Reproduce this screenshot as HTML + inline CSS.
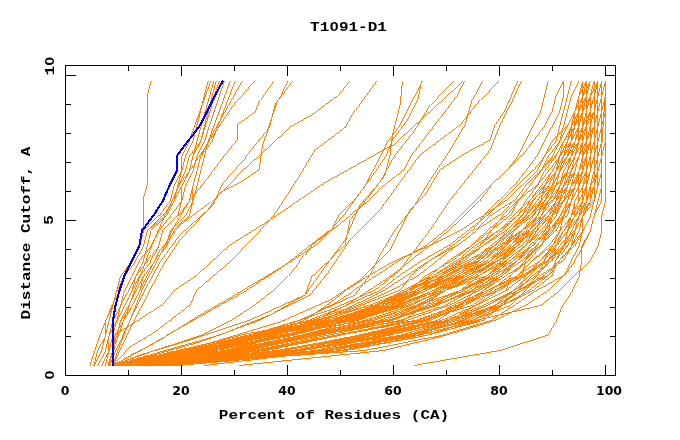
<!DOCTYPE html>
<html lang="en">
<head>
<meta charset="utf-8">
<title>T1091-D1</title>
<style>
html,body{margin:0;padding:0;background:#fff;}
body{width:680px;height:440px;position:relative;overflow:hidden;}
.t{position:absolute;white-space:pre;color:#000;line-height:1;}
.m{font-family:"Liberation Mono","DejaVu Sans Mono",monospace;font-weight:bold;font-size:16px;}
.n{font-family:"DejaVu Sans","Liberation Sans",sans-serif;font-weight:bold;font-size:12.5px;}
.z{font-family:"Liberation Sans",sans-serif;display:inline-block;width:0.6em;text-align:center;letter-spacing:0;}
.c{transform:translate(-50%,-50%);}
.r{transform:translate(-50%,-50%) rotate(-90deg);}
.m.c{transform:translate(-50%,-50%) scale(1,0.82);}
.m.r{transform:translate(-50%,-50%) rotate(-90deg) scale(1,0.82);}
</style>
</head>
<body>
<svg width="680" height="440" viewBox="0 0 680 440" style="position:absolute;left:0;top:0" shape-rendering="crispEdges">
<g>
<polyline points="151.0,80.5 147.0,95.5 147.0,185.0 143.0,200.0 143.0,230.0 140.0,245.0 132.0,260.5 124.5,275.5 119.5,290.5 112.0,305.0 106.0,320.0 100.0,335.0 95.0,350.0 90.0,365.5" stroke="#ff8000" stroke-width="0.99" fill="none"/>
<polyline points="93.6,365.5 101.3,350.5 105.1,335.5 105.1,320.5 112.7,305.5 116.5,290.5 120.4,275.5 131.8,260.5 139.5,245.5 143.3,230.5 158.6,215.5 170.0,200.5 173.8,185.5 181.5,170.5 185.3,155.5 192.9,140.5 196.7,125.5 200.5,110.5 204.2,95.5 208.0,80.5" stroke="#ff8000" stroke-width="0.99" fill="none"/>
<polyline points="93.6,365.5 97.4,350.5 105.1,335.5 108.9,320.5 112.7,305.5 116.5,290.5 124.2,275.5 135.6,260.5 143.3,245.5 147.1,230.5 162.4,215.5 173.8,200.5 177.7,185.5 181.5,170.5 181.5,155.5 189.1,140.5 194.5,125.5 199.8,110.5 205.2,95.5 210.5,80.5" stroke="#ff8000" stroke-width="0.99" fill="none"/>
<polyline points="93.6,365.5 101.3,350.5 105.1,335.5 108.9,320.5 112.7,305.5 116.5,290.5 124.2,275.5 135.6,260.5 143.3,245.5 147.1,230.5 166.2,215.5 173.8,200.5 181.5,185.5 189.1,170.5 192.9,155.5 196.8,140.5 201.0,125.5 205.2,110.5 209.5,95.5 213.7,80.5" stroke="#ff8000" stroke-width="0.99" fill="none"/>
<polyline points="101.3,365.5 108.9,350.5 108.9,335.5 116.5,320.5 120.4,305.5 124.2,290.5 131.8,275.5 139.5,260.5 150.9,245.5 158.6,230.5 170.0,215.5 181.5,200.5 181.5,185.5 189.1,170.5 192.9,155.5 200.6,140.5 204.4,125.5 208.3,110.5 212.1,95.5 216.0,80.5" stroke="#ff8000" stroke-width="0.99" fill="none"/>
<polyline points="97.4,365.5 105.1,350.5 108.9,335.5 112.7,320.5 120.4,305.5 128.0,290.5 135.6,275.5 143.3,260.5 147.1,245.5 150.9,230.5 166.2,215.5 173.8,200.5 177.7,185.5 185.3,170.5 189.1,155.5 200.6,140.5 205.2,125.5 209.8,110.5 214.4,95.5 219.0,80.5" stroke="#ff8000" stroke-width="0.99" fill="none"/>
<polyline points="105.1,365.5 108.9,350.5 112.7,335.5 116.5,320.5 124.2,305.5 131.8,290.5 135.6,275.5 147.1,260.5 158.6,245.5 162.4,230.5 177.7,215.5 181.5,200.5 185.3,185.5 192.9,170.5 196.8,155.5 204.4,140.5 209.3,125.5 214.2,110.5 219.1,95.5 224.0,80.5" stroke="#ff8000" stroke-width="0.99" fill="none"/>
<polyline points="105.1,365.5 108.9,350.5 112.7,335.5 116.5,320.5 124.2,305.5 131.8,290.5 139.5,275.5 150.9,260.5 158.6,245.5 162.4,230.5 177.7,215.5 189.1,200.5 192.9,185.5 196.8,170.5 200.6,155.5 208.2,140.5 213.7,125.5 219.1,110.5 224.6,95.5 230.0,80.5" stroke="#ff8000" stroke-width="0.99" fill="none"/>
<polyline points="108.9,365.5 112.7,350.5 116.5,335.5 120.4,320.5 128.0,305.5 135.6,290.5 143.3,275.5 154.7,260.5 166.2,245.5 170.0,230.5 185.3,215.5 192.9,200.5 192.9,185.5 196.8,170.5 200.6,155.5 212.0,140.5 217.8,125.5 223.5,110.5 229.3,95.5 235.0,80.5" stroke="#ff8000" stroke-width="0.99" fill="none"/>
<polyline points="108.9,365.5 112.7,350.5 116.5,335.5 120.4,320.5 131.8,305.5 139.5,290.5 143.3,275.5 154.7,260.5 166.2,245.5 173.8,230.5 189.1,215.5 192.9,200.5 196.8,185.5 200.6,170.5 204.4,155.5 208.2,140.5 216.7,125.5 225.1,110.5 233.6,95.5 242.0,80.5" stroke="#ff8000" stroke-width="0.99" fill="none"/>
<polyline points="254.0,80.5 237.5,100.0 230.0,110.0 210.0,140.0 195.0,162.5 180.0,182.5 165.0,215.0 150.0,250.0 135.0,290.0 122.0,325.0 113.0,350.0 108.0,365.5" stroke="#ff8000" stroke-width="0.99" fill="none"/>
<polyline points="273.5,80.5 260.0,100.0 255.0,112.0 238.0,124.0 237.0,140.0 225.0,155.0 210.0,175.0 190.0,200.0 175.0,225.0 160.0,255.0 142.0,290.0 128.0,325.0 116.0,350.0 110.0,365.5" stroke="#ff8000" stroke-width="0.99" fill="none"/>
<polyline points="287.5,80.5 280.0,97.0 275.0,105.0 270.0,125.0 262.5,145.0 259.0,170.0 240.0,182.5 220.0,192.5 205.0,212.5 180.0,235.0 160.0,262.0 145.0,290.0 130.0,320.0 118.0,350.0 113.0,365.5" stroke="#ff8000" stroke-width="0.99" fill="none"/>
<polyline points="292.5,80.5 277.5,100.0 267.5,130.0 245.0,157.5 222.5,182.5 212.5,205.0 180.0,240.0 165.0,262.0 150.0,290.0 132.0,325.0 120.0,350.0 113.0,365.5" stroke="#ff8000" stroke-width="0.99" fill="none"/>
<polyline points="349.5,80.5 337.0,96.0 315.0,112.5 292.5,125.0 260.0,155.0 235.0,177.5 210.0,202.5 180.0,225.0 160.0,250.0 145.0,280.0 130.0,310.0 115.0,335.0 113.0,365.5" stroke="#ff8000" stroke-width="0.99" fill="none"/>
<polyline points="376.5,80.5 355.0,110.0 345.0,127.5 315.0,150.0 300.0,175.0 277.5,210.0 270.0,220.0 232.0,260.0 197.0,290.0 190.0,305.0 155.0,332.0 130.0,347.0 113.0,365.5" stroke="#ff8000" stroke-width="0.99" fill="none"/>
<polyline points="402.5,80.5 400.0,105.0 392.5,135.0 390.0,155.0 385.0,175.0 370.0,195.0 350.0,220.0 345.0,245.0 312.5,275.0 305.0,295.0 250.0,320.0 190.0,340.0 140.0,355.0 113.0,365.5" stroke="#ff8000" stroke-width="0.99" fill="none"/>
<polyline points="421.5,80.5 417.5,100.0 407.5,120.0 392.5,140.0 387.5,152.5 377.5,167.5 345.0,212.5 330.0,230.0 285.0,265.0 235.0,295.0 200.0,315.0 160.0,340.0 113.0,365.5" stroke="#ff8000" stroke-width="0.99" fill="none"/>
<polyline points="463.0,80.5 392.5,145.0 325.0,182.5 270.0,220.0 230.0,245.0 197.0,275.0 175.0,290.0 162.0,305.0 115.0,335.0 113.0,365.5" stroke="#ff8000" stroke-width="0.99" fill="none"/>
<polyline points="453.0,80.5 430.0,105.0 415.0,130.0 395.0,155.0 380.0,182.0 360.0,205.0 345.0,240.0 330.0,260.0 305.0,295.0 270.0,315.0 220.0,335.0 160.0,352.0 113.0,365.5" stroke="#ff8000" stroke-width="0.99" fill="none"/>
<polyline points="482.5,80.5 472.0,100.0 465.0,125.0 450.0,150.0 430.0,180.0 415.0,205.0 395.0,230.0 380.0,255.0 370.0,275.0 355.0,295.0 300.0,320.0 240.0,338.0 170.0,354.0 113.0,365.5" stroke="#ff8000" stroke-width="0.99" fill="none"/>
<polyline points="498.5,80.5 480.0,100.0 460.0,125.0 440.0,140.0 420.0,155.0 400.0,182.0 380.0,210.0 350.0,240.0 330.0,270.0 310.0,295.0 260.0,320.0 200.0,342.0 150.0,356.0 113.0,365.5" stroke="#ff8000" stroke-width="0.99" fill="none"/>
<polyline points="517.5,80.5 505.0,110.0 495.0,125.0 490.0,140.0 462.0,155.0 440.0,170.0 425.0,195.0 410.0,210.0 390.0,250.0 360.0,280.0 330.0,300.0 280.0,322.0 210.0,343.0 150.0,357.0 113.0,365.5" stroke="#ff8000" stroke-width="0.99" fill="none"/>
<polyline points="521.0,80.5 510.0,105.0 500.0,125.0 490.0,150.0 470.0,175.0 450.0,200.0 430.0,230.0 415.0,250.0 400.0,270.0 375.0,290.0 330.0,310.0 270.0,330.0 200.0,348.0 113.0,365.5" stroke="#ff8000" stroke-width="0.99" fill="none"/>
<polyline points="112.7,365.5 139.5,350.5 166.2,335.5 192.9,320.5 219.7,305.5 246.4,290.5 269.3,275.5 292.3,260.5 315.2,245.5 330.5,230.5 338.1,215.5 353.4,200.5 364.8,185.5 372.5,170.5 380.1,155.5 387.8,140.5 399.2,125.5 406.9,110.5 414.5,95.5 422.1,80.5" stroke="#ff8000" stroke-width="0.99" fill="none"/>
<polyline points="112.7,365.5 154.7,350.5 200.6,335.5 231.1,320.5 254.1,305.5 273.2,290.5 288.4,275.5 299.9,260.5 311.4,245.5 330.5,230.5 349.6,215.5 368.7,200.5 383.9,185.5 403.0,170.5 410.7,155.5 422.1,140.5 433.6,125.5 445.1,110.5 456.5,95.5 464.2,80.5" stroke="#ff8000" stroke-width="0.99" fill="none"/>
<polyline points="112.7,365.5 200.6,350.5 265.5,335.5 315.2,320.5 345.7,305.5 368.7,290.5 391.6,275.5 410.7,260.5 429.8,245.5 448.9,230.5 464.2,215.5 479.4,200.5 490.9,185.5 506.2,170.5 517.6,155.5 525.3,140.5 532.9,125.5 540.6,110.5 544.4,95.5 548.2,80.5" stroke="#ff8000" stroke-width="0.99" fill="none"/>
<polyline points="112.7,365.5 185.3,350.5 250.2,335.5 299.9,320.5 330.5,305.5 353.4,290.5 376.3,275.5 399.2,260.5 426.0,245.5 445.1,230.5 460.3,215.5 475.6,200.5 490.9,185.5 506.2,170.5 521.5,155.5 532.9,140.5 544.4,125.5 552.0,110.5 555.8,95.5 563.5,80.5" stroke="#ff8000" stroke-width="0.99" fill="none"/>
<polyline points="112.7,365.5 200.6,350.5 269.3,335.5 322.8,320.5 353.4,305.5 383.9,290.5 406.9,275.5 429.8,260.5 452.7,245.5 471.8,230.5 483.3,215.5 498.5,200.5 513.8,185.5 525.3,170.5 536.7,155.5 544.4,140.5 552.0,125.5 559.7,110.5 563.5,95.5 563.5,80.5" stroke="#ff8000" stroke-width="0.99" fill="none"/>
<polyline points="112.7,365.5 208.2,350.5 269.3,335.5 303.7,320.5 326.6,305.5 345.7,290.5 368.7,275.5 395.4,260.5 429.8,245.5 460.3,230.5 483.3,215.5 506.2,200.5 521.5,185.5 536.7,170.5 544.4,155.5 555.8,140.5 559.7,125.5 563.5,110.5 567.3,95.5 571.1,80.5" stroke="#ff8000" stroke-width="0.99" fill="none"/>
<polyline points="112.7,365.5 223.5,350.5 284.6,335.5 338.1,320.5 376.3,305.5 406.9,290.5 429.8,275.5 448.9,260.5 471.8,245.5 490.9,230.5 502.4,215.5 517.6,200.5 529.1,185.5 540.6,170.5 548.2,155.5 559.7,140.5 563.5,125.5 567.3,110.5 571.1,95.5 578.8,80.5" stroke="#ff8000" stroke-width="0.99" fill="none"/>
<polyline points="413.7,365.5 500.0,350.5 547.0,335.5 556.0,320.5 562.0,305.5 572.0,290.5 579.0,275.5 581.5,260.5 581.5,245.5 590.0,230.5 594.0,215.5 601.0,200.5 601.0,185.5 601.0,170.5 601.5,155.5 602.0,140.5 603.0,125.5 604.0,110.5 605.0,95.5 605.5,80.5" stroke="#ff8000" stroke-width="0.99" fill="none"/>
<polyline points="112.7,365.5 189.1,350.5 250.2,335.5 307.5,320.5 345.7,305.5 380.1,290.5 399.2,275.5 422.1,260.5 448.9,245.5 468.0,230.5 487.1,215.5 502.4,200.5 517.6,185.5 532.9,170.5 544.4,155.5 552.0,140.5 567.3,125.5 574.9,110.5 578.8,95.5 582.6,80.5" stroke="#ff8000" stroke-width="0.99" fill="none"/>
<polyline points="112.7,365.5 189.1,350.5 250.2,335.5 311.4,320.5 357.2,305.5 391.6,290.5 418.3,275.5 437.4,260.5 456.5,245.5 475.6,230.5 490.9,215.5 513.8,200.5 525.3,185.5 540.6,170.5 548.2,155.5 559.7,140.5 567.3,125.5 574.9,110.5 578.8,95.5 582.6,80.5" stroke="#ff8000" stroke-width="0.99" fill="none"/>
<polyline points="112.7,365.5 189.1,350.5 254.1,335.5 319.0,320.5 361.0,305.5 399.2,290.5 410.7,275.5 429.8,260.5 456.5,245.5 475.6,230.5 498.5,215.5 513.8,200.5 525.3,185.5 540.6,170.5 555.8,155.5 563.5,140.5 571.1,125.5 574.9,110.5 582.6,95.5 582.6,80.5" stroke="#ff8000" stroke-width="0.99" fill="none"/>
<polyline points="112.7,365.5 200.6,350.5 269.3,335.5 330.5,320.5 372.5,305.5 410.7,290.5 433.6,275.5 460.3,260.5 479.4,245.5 490.9,230.5 510.0,215.5 517.6,200.5 529.1,185.5 540.6,170.5 552.0,155.5 559.7,140.5 567.3,125.5 574.9,110.5 582.6,95.5 590.2,80.5" stroke="#ff8000" stroke-width="0.99" fill="none"/>
<polyline points="112.7,365.5 204.4,350.5 269.3,335.5 330.5,320.5 372.5,305.5 410.7,290.5 426.0,275.5 452.7,260.5 471.8,245.5 487.1,230.5 506.2,215.5 517.6,200.5 536.7,185.5 548.2,170.5 559.7,155.5 567.3,140.5 574.9,125.5 578.8,110.5 582.6,95.5 586.4,80.5" stroke="#ff8000" stroke-width="0.99" fill="none"/>
<polyline points="112.7,365.5 204.4,350.5 273.2,335.5 330.5,320.5 376.3,305.5 418.3,290.5 441.2,275.5 460.3,260.5 479.4,245.5 498.5,230.5 517.6,215.5 525.3,200.5 536.7,185.5 544.4,170.5 555.8,155.5 563.5,140.5 571.1,125.5 578.8,110.5 586.4,95.5 590.2,80.5" stroke="#ff8000" stroke-width="0.99" fill="none"/>
<polyline points="112.7,365.5 204.4,350.5 269.3,335.5 334.3,320.5 376.3,305.5 403.0,290.5 433.6,275.5 456.5,260.5 475.6,245.5 498.5,230.5 513.8,215.5 529.1,200.5 540.6,185.5 552.0,170.5 559.7,155.5 563.5,140.5 574.9,125.5 578.8,110.5 586.4,95.5 590.2,80.5" stroke="#ff8000" stroke-width="0.99" fill="none"/>
<polyline points="112.7,365.5 215.9,350.5 284.6,335.5 345.7,320.5 383.9,305.5 410.7,290.5 437.4,275.5 464.2,260.5 483.3,245.5 506.2,230.5 521.5,215.5 529.1,200.5 544.4,185.5 555.8,170.5 563.5,155.5 567.3,140.5 574.9,125.5 582.6,110.5 590.2,95.5 594.0,80.5" stroke="#ff8000" stroke-width="0.99" fill="none"/>
<polyline points="112.7,365.5 212.0,350.5 280.8,335.5 345.7,320.5 395.4,305.5 422.1,290.5 448.9,275.5 460.3,260.5 483.3,245.5 502.4,230.5 517.6,215.5 532.9,200.5 544.4,185.5 555.8,170.5 567.3,155.5 574.9,140.5 578.8,125.5 582.6,110.5 590.2,95.5 594.0,80.5" stroke="#ff8000" stroke-width="0.99" fill="none"/>
<polyline points="112.7,365.5 223.5,350.5 288.4,335.5 349.6,320.5 391.6,305.5 426.0,290.5 456.5,275.5 475.6,260.5 502.4,245.5 513.8,230.5 529.1,215.5 540.6,200.5 555.8,185.5 559.7,170.5 571.1,155.5 574.9,140.5 582.6,125.5 590.2,110.5 594.0,95.5 597.9,80.5" stroke="#ff8000" stroke-width="0.99" fill="none"/>
<polyline points="112.7,365.5 223.5,350.5 284.6,335.5 349.6,320.5 391.6,305.5 422.1,290.5 452.7,275.5 479.4,260.5 494.7,245.5 513.8,230.5 529.1,215.5 540.6,200.5 544.4,185.5 555.8,170.5 567.3,155.5 578.8,140.5 586.4,125.5 594.0,110.5 597.9,95.5 601.7,80.5" stroke="#ff8000" stroke-width="0.99" fill="none"/>
<polyline points="112.7,365.5 231.1,350.5 299.9,335.5 357.2,320.5 403.0,305.5 437.4,290.5 468.0,275.5 490.9,260.5 506.2,245.5 521.5,230.5 532.9,215.5 544.4,200.5 555.8,185.5 567.3,170.5 574.9,155.5 582.6,140.5 586.4,125.5 594.0,110.5 597.9,95.5 601.7,80.5" stroke="#ff8000" stroke-width="0.99" fill="none"/>
<polyline points="112.7,365.5 181.5,350.5 238.8,335.5 315.2,320.5 368.7,305.5 406.9,290.5 437.4,275.5 468.0,260.5 494.7,245.5 510.0,230.5 525.3,215.5 540.6,200.5 544.4,185.5 552.0,170.5 559.7,155.5 567.3,140.5 571.1,125.5 574.9,110.5 578.8,95.5 586.4,80.5" stroke="#ff8000" stroke-width="0.99" fill="none"/>
<polyline points="112.7,365.5 181.5,350.5 261.7,335.5 334.3,320.5 372.5,305.5 414.5,290.5 441.2,275.5 471.8,260.5 490.9,245.5 510.0,230.5 525.3,215.5 536.7,200.5 548.2,185.5 555.8,170.5 563.5,155.5 571.1,140.5 571.1,125.5 574.9,110.5 578.8,95.5 582.6,80.5" stroke="#ff8000" stroke-width="0.99" fill="none"/>
<polyline points="112.7,365.5 185.3,350.5 246.4,335.5 322.8,320.5 368.7,305.5 406.9,290.5 448.9,275.5 475.6,260.5 490.9,245.5 510.0,230.5 521.5,215.5 532.9,200.5 544.4,185.5 552.0,170.5 559.7,155.5 567.3,140.5 574.9,125.5 574.9,110.5 578.8,95.5 582.6,80.5" stroke="#ff8000" stroke-width="0.99" fill="none"/>
<polyline points="112.7,365.5 181.5,350.5 254.1,335.5 334.3,320.5 380.1,305.5 406.9,290.5 445.1,275.5 475.6,260.5 490.9,245.5 510.0,230.5 525.3,215.5 532.9,200.5 548.2,185.5 555.8,170.5 559.7,155.5 571.1,140.5 574.9,125.5 574.9,110.5 582.6,95.5 582.6,80.5" stroke="#ff8000" stroke-width="0.99" fill="none"/>
<polyline points="112.7,365.5 185.3,350.5 254.1,335.5 326.6,320.5 380.1,305.5 422.1,290.5 445.1,275.5 475.6,260.5 494.7,245.5 510.0,230.5 521.5,215.5 532.9,200.5 544.4,185.5 555.8,170.5 563.5,155.5 571.1,140.5 574.9,125.5 578.8,110.5 578.8,95.5 582.6,80.5" stroke="#ff8000" stroke-width="0.99" fill="none"/>
<polyline points="112.7,365.5 185.3,350.5 246.4,335.5 334.3,320.5 372.5,305.5 406.9,290.5 445.1,275.5 479.4,260.5 498.5,245.5 510.0,230.5 529.1,215.5 540.6,200.5 552.0,185.5 555.8,170.5 563.5,155.5 567.3,140.5 574.9,125.5 578.8,110.5 586.4,95.5 586.4,80.5" stroke="#ff8000" stroke-width="0.99" fill="none"/>
<polyline points="112.7,365.5 185.3,350.5 250.2,335.5 334.3,320.5 387.8,305.5 422.1,290.5 456.5,275.5 479.4,260.5 494.7,245.5 506.2,230.5 521.5,215.5 532.9,200.5 544.4,185.5 555.8,170.5 563.5,155.5 567.3,140.5 571.1,125.5 574.9,110.5 578.8,95.5 586.4,80.5" stroke="#ff8000" stroke-width="0.99" fill="none"/>
<polyline points="112.7,365.5 181.5,350.5 257.9,335.5 334.3,320.5 383.9,305.5 422.1,290.5 448.9,275.5 475.6,260.5 502.4,245.5 513.8,230.5 525.3,215.5 536.7,200.5 552.0,185.5 559.7,170.5 567.3,155.5 571.1,140.5 574.9,125.5 578.8,110.5 582.6,95.5 586.4,80.5" stroke="#ff8000" stroke-width="0.99" fill="none"/>
<polyline points="112.7,365.5 192.9,350.5 269.3,335.5 338.1,320.5 391.6,305.5 418.3,290.5 448.9,275.5 475.6,260.5 502.4,245.5 529.1,230.5 536.7,215.5 548.2,200.5 555.8,185.5 559.7,170.5 567.3,155.5 571.1,140.5 578.8,125.5 582.6,110.5 586.4,95.5 586.4,80.5" stroke="#ff8000" stroke-width="0.99" fill="none"/>
<polyline points="112.7,365.5 200.6,350.5 269.3,335.5 349.6,320.5 383.9,305.5 422.1,290.5 460.3,275.5 483.3,260.5 502.4,245.5 513.8,230.5 532.9,215.5 540.6,200.5 552.0,185.5 559.7,170.5 567.3,155.5 574.9,140.5 578.8,125.5 582.6,110.5 586.4,95.5 590.2,80.5" stroke="#ff8000" stroke-width="0.99" fill="none"/>
<polyline points="112.7,365.5 192.9,350.5 261.7,335.5 341.9,320.5 395.4,305.5 433.6,290.5 460.3,275.5 483.3,260.5 498.5,245.5 521.5,230.5 532.9,215.5 544.4,200.5 552.0,185.5 559.7,170.5 563.5,155.5 574.9,140.5 578.8,125.5 578.8,110.5 582.6,95.5 586.4,80.5" stroke="#ff8000" stroke-width="0.99" fill="none"/>
<polyline points="112.7,365.5 208.2,350.5 269.3,335.5 338.1,320.5 387.8,305.5 422.1,290.5 445.1,275.5 475.6,260.5 502.4,245.5 513.8,230.5 529.1,215.5 544.4,200.5 555.8,185.5 559.7,170.5 571.1,155.5 574.9,140.5 578.8,125.5 582.6,110.5 582.6,95.5 586.4,80.5" stroke="#ff8000" stroke-width="0.99" fill="none"/>
<polyline points="112.7,365.5 196.8,350.5 265.5,335.5 353.4,320.5 403.0,305.5 437.4,290.5 464.2,275.5 490.9,260.5 502.4,245.5 521.5,230.5 532.9,215.5 548.2,200.5 555.8,185.5 571.1,170.5 574.9,155.5 578.8,140.5 582.6,125.5 586.4,110.5 586.4,95.5 590.2,80.5" stroke="#ff8000" stroke-width="0.99" fill="none"/>
<polyline points="112.7,365.5 185.3,350.5 254.1,335.5 334.3,320.5 391.6,305.5 426.0,290.5 464.2,275.5 487.1,260.5 506.2,245.5 513.8,230.5 532.9,215.5 544.4,200.5 555.8,185.5 559.7,170.5 563.5,155.5 574.9,140.5 578.8,125.5 578.8,110.5 582.6,95.5 586.4,80.5" stroke="#ff8000" stroke-width="0.99" fill="none"/>
<polyline points="112.7,365.5 196.8,350.5 257.9,335.5 341.9,320.5 399.2,305.5 433.6,290.5 468.0,275.5 490.9,260.5 510.0,245.5 525.3,230.5 536.7,215.5 548.2,200.5 559.7,185.5 563.5,170.5 571.1,155.5 574.9,140.5 578.8,125.5 582.6,110.5 586.4,95.5 586.4,80.5" stroke="#ff8000" stroke-width="0.99" fill="none"/>
<polyline points="112.7,365.5 215.9,350.5 277.0,335.5 364.8,320.5 410.7,305.5 441.2,290.5 460.3,275.5 490.9,260.5 506.2,245.5 521.5,230.5 536.7,215.5 544.4,200.5 552.0,185.5 559.7,170.5 567.3,155.5 574.9,140.5 578.8,125.5 582.6,110.5 586.4,95.5 590.2,80.5" stroke="#ff8000" stroke-width="0.99" fill="none"/>
<polyline points="112.7,365.5 215.9,350.5 292.3,335.5 349.6,320.5 395.4,305.5 441.2,290.5 460.3,275.5 487.1,260.5 506.2,245.5 521.5,230.5 536.7,215.5 552.0,200.5 559.7,185.5 567.3,170.5 571.1,155.5 574.9,140.5 578.8,125.5 582.6,110.5 586.4,95.5 590.2,80.5" stroke="#ff8000" stroke-width="0.99" fill="none"/>
<polyline points="112.7,365.5 196.8,350.5 265.5,335.5 353.4,320.5 406.9,305.5 445.1,290.5 464.2,275.5 490.9,260.5 510.0,245.5 521.5,230.5 532.9,215.5 548.2,200.5 559.7,185.5 567.3,170.5 571.1,155.5 578.8,140.5 582.6,125.5 582.6,110.5 586.4,95.5 590.2,80.5" stroke="#ff8000" stroke-width="0.99" fill="none"/>
<polyline points="112.7,365.5 227.3,350.5 299.9,335.5 372.5,320.5 414.5,305.5 445.1,290.5 471.8,275.5 494.7,260.5 513.8,245.5 529.1,230.5 540.6,215.5 552.0,200.5 559.7,185.5 563.5,170.5 571.1,155.5 578.8,140.5 578.8,125.5 582.6,110.5 582.6,95.5 590.2,80.5" stroke="#ff8000" stroke-width="0.99" fill="none"/>
<polyline points="112.7,365.5 204.4,350.5 284.6,335.5 349.6,320.5 406.9,305.5 445.1,290.5 475.6,275.5 494.7,260.5 510.0,245.5 521.5,230.5 540.6,215.5 548.2,200.5 555.8,185.5 567.3,170.5 571.1,155.5 578.8,140.5 578.8,125.5 582.6,110.5 586.4,95.5 590.2,80.5" stroke="#ff8000" stroke-width="0.99" fill="none"/>
<polyline points="112.7,365.5 227.3,350.5 280.8,335.5 345.7,320.5 403.0,305.5 437.4,290.5 468.0,275.5 498.5,260.5 510.0,245.5 529.1,230.5 540.6,215.5 552.0,200.5 563.5,185.5 571.1,170.5 574.9,155.5 578.8,140.5 582.6,125.5 586.4,110.5 586.4,95.5 590.2,80.5" stroke="#ff8000" stroke-width="0.99" fill="none"/>
<polyline points="112.7,365.5 235.0,350.5 311.4,335.5 383.9,320.5 422.1,305.5 445.1,290.5 475.6,275.5 498.5,260.5 513.8,245.5 536.7,230.5 540.6,215.5 548.2,200.5 555.8,185.5 567.3,170.5 574.9,155.5 578.8,140.5 578.8,125.5 582.6,110.5 586.4,95.5 590.2,80.5" stroke="#ff8000" stroke-width="0.99" fill="none"/>
<polyline points="112.7,365.5 231.1,350.5 303.7,335.5 391.6,320.5 426.0,305.5 441.2,290.5 471.8,275.5 498.5,260.5 517.6,245.5 529.1,230.5 544.4,215.5 559.7,200.5 563.5,185.5 567.3,170.5 571.1,155.5 578.8,140.5 582.6,125.5 586.4,110.5 590.2,95.5 594.0,80.5" stroke="#ff8000" stroke-width="0.99" fill="none"/>
<polyline points="112.7,365.5 231.1,350.5 299.9,335.5 368.7,320.5 418.3,305.5 445.1,290.5 479.4,275.5 506.2,260.5 525.3,245.5 532.9,230.5 544.4,215.5 555.8,200.5 563.5,185.5 571.1,170.5 574.9,155.5 578.8,140.5 586.4,125.5 586.4,110.5 586.4,95.5 590.2,80.5" stroke="#ff8000" stroke-width="0.99" fill="none"/>
<polyline points="112.7,365.5 235.0,350.5 311.4,335.5 387.8,320.5 437.4,305.5 468.0,290.5 490.9,275.5 506.2,260.5 525.3,245.5 536.7,230.5 548.2,215.5 555.8,200.5 559.7,185.5 567.3,170.5 574.9,155.5 582.6,140.5 586.4,125.5 590.2,110.5 590.2,95.5 594.0,80.5" stroke="#ff8000" stroke-width="0.99" fill="none"/>
<polyline points="112.7,365.5 238.8,350.5 315.2,335.5 391.6,320.5 433.6,305.5 460.3,290.5 479.4,275.5 502.4,260.5 513.8,245.5 532.9,230.5 548.2,215.5 563.5,200.5 567.3,185.5 571.1,170.5 574.9,155.5 582.6,140.5 582.6,125.5 586.4,110.5 586.4,95.5 590.2,80.5" stroke="#ff8000" stroke-width="0.99" fill="none"/>
<polyline points="112.7,365.5 238.8,350.5 315.2,335.5 380.1,320.5 418.3,305.5 460.3,290.5 487.1,275.5 506.2,260.5 525.3,245.5 536.7,230.5 552.0,215.5 563.5,200.5 567.3,185.5 571.1,170.5 578.8,155.5 582.6,140.5 586.4,125.5 590.2,110.5 590.2,95.5 594.0,80.5" stroke="#ff8000" stroke-width="0.99" fill="none"/>
<polyline points="112.7,365.5 235.0,350.5 319.0,335.5 387.8,320.5 429.8,305.5 464.2,290.5 487.1,275.5 502.4,260.5 517.6,245.5 532.9,230.5 548.2,215.5 555.8,200.5 567.3,185.5 571.1,170.5 578.8,155.5 582.6,140.5 586.4,125.5 586.4,110.5 590.2,95.5 594.0,80.5" stroke="#ff8000" stroke-width="0.99" fill="none"/>
<polyline points="112.7,365.5 235.0,350.5 307.5,335.5 391.6,320.5 418.3,305.5 460.3,290.5 487.1,275.5 502.4,260.5 521.5,245.5 532.9,230.5 548.2,215.5 559.7,200.5 567.3,185.5 571.1,170.5 578.8,155.5 582.6,140.5 586.4,125.5 590.2,110.5 594.0,95.5 594.0,80.5" stroke="#ff8000" stroke-width="0.99" fill="none"/>
<polyline points="112.7,365.5 250.2,350.5 307.5,335.5 380.1,320.5 418.3,305.5 445.1,290.5 487.1,275.5 510.0,260.5 532.9,245.5 544.4,230.5 555.8,215.5 559.7,200.5 567.3,185.5 574.9,170.5 578.8,155.5 586.4,140.5 586.4,125.5 590.2,110.5 590.2,95.5 594.0,80.5" stroke="#ff8000" stroke-width="0.99" fill="none"/>
<polyline points="112.7,365.5 246.4,350.5 319.0,335.5 391.6,320.5 433.6,305.5 471.8,290.5 498.5,275.5 513.8,260.5 532.9,245.5 544.4,230.5 555.8,215.5 563.5,200.5 574.9,185.5 582.6,170.5 586.4,155.5 586.4,140.5 590.2,125.5 594.0,110.5 594.0,95.5 594.0,80.5" stroke="#ff8000" stroke-width="0.99" fill="none"/>
<polyline points="112.7,365.5 242.6,350.5 315.2,335.5 403.0,320.5 426.0,305.5 460.3,290.5 494.7,275.5 510.0,260.5 525.3,245.5 540.6,230.5 552.0,215.5 559.7,200.5 567.3,185.5 574.9,170.5 578.8,155.5 582.6,140.5 586.4,125.5 590.2,110.5 590.2,95.5 594.0,80.5" stroke="#ff8000" stroke-width="0.99" fill="none"/>
<polyline points="112.7,365.5 250.2,350.5 303.7,335.5 380.1,320.5 418.3,305.5 460.3,290.5 490.9,275.5 506.2,260.5 525.3,245.5 544.4,230.5 555.8,215.5 563.5,200.5 567.3,185.5 571.1,170.5 578.8,155.5 586.4,140.5 590.2,125.5 590.2,110.5 590.2,95.5 594.0,80.5" stroke="#ff8000" stroke-width="0.99" fill="none"/>
<polyline points="112.7,365.5 246.4,350.5 311.4,335.5 387.8,320.5 433.6,305.5 475.6,290.5 494.7,275.5 517.6,260.5 532.9,245.5 544.4,230.5 552.0,215.5 555.8,200.5 563.5,185.5 574.9,170.5 578.8,155.5 582.6,140.5 586.4,125.5 586.4,110.5 590.2,95.5 594.0,80.5" stroke="#ff8000" stroke-width="0.99" fill="none"/>
<polyline points="112.7,365.5 261.7,350.5 338.1,335.5 406.9,320.5 448.9,305.5 479.4,290.5 498.5,275.5 517.6,260.5 529.1,245.5 548.2,230.5 552.0,215.5 563.5,200.5 574.9,185.5 582.6,170.5 582.6,155.5 586.4,140.5 586.4,125.5 590.2,110.5 594.0,95.5 594.0,80.5" stroke="#ff8000" stroke-width="0.99" fill="none"/>
<polyline points="112.7,365.5 265.5,350.5 338.1,335.5 406.9,320.5 448.9,305.5 479.4,290.5 502.4,275.5 521.5,260.5 540.6,245.5 548.2,230.5 552.0,215.5 563.5,200.5 571.1,185.5 574.9,170.5 578.8,155.5 582.6,140.5 586.4,125.5 590.2,110.5 590.2,95.5 594.0,80.5" stroke="#ff8000" stroke-width="0.99" fill="none"/>
<polyline points="112.7,365.5 254.1,350.5 326.6,335.5 399.2,320.5 445.1,305.5 471.8,290.5 490.9,275.5 513.8,260.5 532.9,245.5 548.2,230.5 559.7,215.5 567.3,200.5 571.1,185.5 582.6,170.5 582.6,155.5 586.4,140.5 586.4,125.5 590.2,110.5 594.0,95.5 594.0,80.5" stroke="#ff8000" stroke-width="0.99" fill="none"/>
<polyline points="112.7,365.5 257.9,350.5 334.3,335.5 414.5,320.5 456.5,305.5 498.5,290.5 521.5,275.5 525.3,260.5 540.6,245.5 548.2,230.5 563.5,215.5 571.1,200.5 574.9,185.5 578.8,170.5 586.4,155.5 590.2,140.5 590.2,125.5 590.2,110.5 590.2,95.5 597.9,80.5" stroke="#ff8000" stroke-width="0.99" fill="none"/>
<polyline points="112.7,365.5 265.5,350.5 338.1,335.5 418.3,320.5 456.5,305.5 483.3,290.5 502.4,275.5 521.5,260.5 536.7,245.5 552.0,230.5 563.5,215.5 567.3,200.5 571.1,185.5 578.8,170.5 582.6,155.5 582.6,140.5 586.4,125.5 590.2,110.5 594.0,95.5 594.0,80.5" stroke="#ff8000" stroke-width="0.99" fill="none"/>
<polyline points="116.5,365.5 277.0,350.5 361.0,335.5 429.8,320.5 464.2,305.5 483.3,290.5 506.2,275.5 529.1,260.5 540.6,245.5 555.8,230.5 563.5,215.5 571.1,200.5 578.8,185.5 578.8,170.5 582.6,155.5 586.4,140.5 590.2,125.5 594.0,110.5 594.0,95.5 597.9,80.5" stroke="#ff8000" stroke-width="0.99" fill="none"/>
<polyline points="120.4,365.5 280.8,350.5 357.2,335.5 422.1,320.5 460.3,305.5 490.9,290.5 510.0,275.5 529.1,260.5 540.6,245.5 552.0,230.5 559.7,215.5 571.1,200.5 574.9,185.5 582.6,170.5 586.4,155.5 590.2,140.5 594.0,125.5 594.0,110.5 594.0,95.5 594.0,80.5" stroke="#ff8000" stroke-width="0.99" fill="none"/>
<polyline points="120.4,365.5 280.8,350.5 372.5,335.5 437.4,320.5 460.3,305.5 487.1,290.5 517.6,275.5 532.9,260.5 552.0,245.5 559.7,230.5 563.5,215.5 567.3,200.5 574.9,185.5 582.6,170.5 586.4,155.5 590.2,140.5 594.0,125.5 594.0,110.5 597.9,95.5 597.9,80.5" stroke="#ff8000" stroke-width="0.99" fill="none"/>
<polyline points="124.2,365.5 280.8,350.5 364.8,335.5 441.2,320.5 475.6,305.5 506.2,290.5 510.0,275.5 525.3,260.5 536.7,245.5 552.0,230.5 559.7,215.5 571.1,200.5 574.9,185.5 582.6,170.5 582.6,155.5 590.2,140.5 590.2,125.5 590.2,110.5 594.0,95.5 594.0,80.5" stroke="#ff8000" stroke-width="0.99" fill="none"/>
<polyline points="128.0,365.5 277.0,350.5 368.7,335.5 437.4,320.5 460.3,305.5 475.6,290.5 502.4,275.5 517.6,260.5 536.7,245.5 548.2,230.5 567.3,215.5 571.1,200.5 578.8,185.5 586.4,170.5 590.2,155.5 590.2,140.5 594.0,125.5 594.0,110.5 594.0,95.5 594.0,80.5" stroke="#ff8000" stroke-width="0.99" fill="none"/>
<polyline points="128.0,365.5 292.3,350.5 368.7,335.5 448.9,320.5 475.6,305.5 498.5,290.5 517.6,275.5 540.6,260.5 552.0,245.5 559.7,230.5 571.1,215.5 582.6,200.5 586.4,185.5 586.4,170.5 586.4,155.5 590.2,140.5 594.0,125.5 594.0,110.5 597.9,95.5 597.9,80.5" stroke="#ff8000" stroke-width="0.99" fill="none"/>
<polyline points="131.8,365.5 284.6,350.5 361.0,335.5 426.0,320.5 464.2,305.5 494.7,290.5 517.6,275.5 532.9,260.5 548.2,245.5 559.7,230.5 571.1,215.5 574.9,200.5 582.6,185.5 586.4,170.5 590.2,155.5 590.2,140.5 590.2,125.5 594.0,110.5 594.0,95.5 597.9,80.5" stroke="#ff8000" stroke-width="0.99" fill="none"/>
<polyline points="135.6,365.5 299.9,350.5 399.2,335.5 452.7,320.5 494.7,305.5 513.8,290.5 536.7,275.5 544.4,260.5 552.0,245.5 563.5,230.5 574.9,215.5 574.9,200.5 582.6,185.5 586.4,170.5 590.2,155.5 590.2,140.5 594.0,125.5 597.9,110.5 601.7,95.5 601.7,80.5" stroke="#ff8000" stroke-width="0.99" fill="none"/>
<polyline points="135.6,365.5 303.7,350.5 383.9,335.5 441.2,320.5 475.6,305.5 498.5,290.5 521.5,275.5 544.4,260.5 555.8,245.5 567.3,230.5 571.1,215.5 578.8,200.5 578.8,185.5 582.6,170.5 586.4,155.5 586.4,140.5 594.0,125.5 594.0,110.5 597.9,95.5 597.9,80.5" stroke="#ff8000" stroke-width="0.99" fill="none"/>
<polyline points="139.5,365.5 280.8,350.5 364.8,335.5 422.1,320.5 471.8,305.5 494.7,290.5 525.3,275.5 540.6,260.5 555.8,245.5 563.5,230.5 571.1,215.5 574.9,200.5 582.6,185.5 590.2,170.5 590.2,155.5 594.0,140.5 597.9,125.5 597.9,110.5 601.7,95.5 601.7,80.5" stroke="#ff8000" stroke-width="0.99" fill="none"/>
<polyline points="143.3,365.5 296.1,350.5 380.1,335.5 441.2,320.5 475.6,305.5 506.2,290.5 525.3,275.5 540.6,260.5 555.8,245.5 567.3,230.5 578.8,215.5 582.6,200.5 586.4,185.5 590.2,170.5 594.0,155.5 594.0,140.5 594.0,125.5 597.9,110.5 597.9,95.5 601.7,80.5" stroke="#ff8000" stroke-width="0.99" fill="none"/>
<polyline points="143.3,365.5 303.7,350.5 368.7,335.5 426.0,320.5 452.7,305.5 487.1,290.5 521.5,275.5 548.2,260.5 555.8,245.5 567.3,230.5 578.8,215.5 582.6,200.5 582.6,185.5 590.2,170.5 594.0,155.5 594.0,140.5 597.9,125.5 601.7,110.5 601.7,95.5 601.7,80.5" stroke="#ff8000" stroke-width="0.99" fill="none"/>
<polyline points="147.1,365.5 299.9,350.5 387.8,335.5 448.9,320.5 487.1,305.5 513.8,290.5 529.1,275.5 544.4,260.5 555.8,245.5 567.3,230.5 574.9,215.5 582.6,200.5 586.4,185.5 590.2,170.5 594.0,155.5 594.0,140.5 597.9,125.5 597.9,110.5 601.7,95.5 601.7,80.5" stroke="#ff8000" stroke-width="0.99" fill="none"/>
<polyline points="150.9,365.5 299.9,350.5 372.5,335.5 445.1,320.5 483.3,305.5 513.8,290.5 536.7,275.5 548.2,260.5 559.7,245.5 574.9,230.5 578.8,215.5 590.2,200.5 590.2,185.5 597.9,170.5 597.9,155.5 601.7,140.5 601.7,125.5 601.7,110.5 605.5,95.5 605.5,80.5" stroke="#ff8000" stroke-width="0.99" fill="none"/>
<polyline points="150.9,365.5 315.2,350.5 387.8,335.5 452.7,320.5 487.1,305.5 517.6,290.5 532.9,275.5 552.0,260.5 555.8,245.5 563.5,230.5 571.1,215.5 578.8,200.5 586.4,185.5 590.2,170.5 594.0,155.5 597.9,140.5 601.7,125.5 601.7,110.5 601.7,95.5 601.7,80.5" stroke="#ff8000" stroke-width="0.99" fill="none"/>
<polyline points="154.7,365.5 319.0,350.5 406.9,335.5 452.7,320.5 498.5,305.5 517.6,290.5 525.3,275.5 548.2,260.5 567.3,245.5 574.9,230.5 578.8,215.5 586.4,200.5 590.2,185.5 594.0,170.5 597.9,155.5 597.9,140.5 597.9,125.5 597.9,110.5 601.7,95.5 601.7,80.5" stroke="#ff8000" stroke-width="0.99" fill="none"/>
<polyline points="158.6,365.5 326.6,350.5 406.9,335.5 464.2,320.5 494.7,305.5 521.5,290.5 536.7,275.5 552.0,260.5 563.5,245.5 567.3,230.5 574.9,215.5 586.4,200.5 594.0,185.5 594.0,170.5 597.9,155.5 597.9,140.5 601.7,125.5 605.5,110.5 605.5,95.5 605.5,80.5" stroke="#ff8000" stroke-width="0.99" fill="none"/>
<polyline points="158.6,365.5 341.9,350.5 410.7,335.5 456.5,320.5 494.7,305.5 513.8,290.5 536.7,275.5 548.2,260.5 563.5,245.5 574.9,230.5 582.6,215.5 586.4,200.5 586.4,185.5 590.2,170.5 594.0,155.5 594.0,140.5 597.9,125.5 601.7,110.5 601.7,95.5 601.7,80.5" stroke="#ff8000" stroke-width="0.99" fill="none"/>
<polyline points="162.4,365.5 341.9,350.5 410.7,335.5 468.0,320.5 498.5,305.5 521.5,290.5 544.4,275.5 559.7,260.5 571.1,245.5 574.9,230.5 582.6,215.5 590.2,200.5 594.0,185.5 597.9,170.5 601.7,155.5 601.7,140.5 601.7,125.5 601.7,110.5 601.7,95.5 601.7,80.5" stroke="#ff8000" stroke-width="0.99" fill="none"/>
<polyline points="166.2,365.5 319.0,350.5 403.0,335.5 471.8,320.5 502.4,305.5 529.1,290.5 548.2,275.5 555.8,260.5 563.5,245.5 571.1,230.5 578.8,215.5 590.2,200.5 590.2,185.5 594.0,170.5 597.9,155.5 601.7,140.5 601.7,125.5 601.7,110.5 601.7,95.5 605.5,80.5" stroke="#ff8000" stroke-width="0.99" fill="none"/>
<polyline points="170.0,365.5 326.6,350.5 414.5,335.5 460.3,320.5 502.4,305.5 517.6,290.5 544.4,275.5 559.7,260.5 571.1,245.5 582.6,230.5 582.6,215.5 594.0,200.5 597.9,185.5 597.9,170.5 597.9,155.5 601.7,140.5 601.7,125.5 601.7,110.5 605.5,95.5 605.5,80.5" stroke="#ff8000" stroke-width="0.99" fill="none"/>
<polyline points="170.0,365.5 345.7,350.5 426.0,335.5 471.8,320.5 510.0,305.5 525.3,290.5 540.6,275.5 563.5,260.5 571.1,245.5 578.8,230.5 582.6,215.5 590.2,200.5 594.0,185.5 594.0,170.5 594.0,155.5 597.9,140.5 601.7,125.5 605.5,110.5 605.5,95.5 605.5,80.5" stroke="#ff8000" stroke-width="0.99" fill="none"/>
<polyline points="173.8,365.5 330.5,350.5 414.5,335.5 479.4,320.5 502.4,305.5 532.9,290.5 552.0,275.5 555.8,260.5 567.3,245.5 574.9,230.5 582.6,215.5 590.2,200.5 594.0,185.5 594.0,170.5 597.9,155.5 601.7,140.5 601.7,125.5 601.7,110.5 605.5,95.5 605.5,80.5" stroke="#ff8000" stroke-width="0.99" fill="none"/>
<polyline points="177.7,365.5 345.7,350.5 426.0,335.5 483.3,320.5 502.4,305.5 517.6,290.5 548.2,275.5 559.7,260.5 574.9,245.5 582.6,230.5 590.2,215.5 594.0,200.5 597.9,185.5 597.9,170.5 597.9,155.5 601.7,140.5 601.7,125.5 601.7,110.5 601.7,95.5 601.7,80.5" stroke="#ff8000" stroke-width="0.99" fill="none"/>
<polyline points="177.7,365.5 341.9,350.5 426.0,335.5 483.3,320.5 502.4,305.5 517.6,290.5 544.4,275.5 559.7,260.5 571.1,245.5 574.9,230.5 578.8,215.5 594.0,200.5 594.0,185.5 597.9,170.5 597.9,155.5 601.7,140.5 601.7,125.5 605.5,110.5 605.5,95.5 605.5,80.5" stroke="#ff8000" stroke-width="0.99" fill="none"/>
<polyline points="204.4,365.5 330.5,350.5 418.3,335.5 475.6,320.5 540.6,305.5 559.7,290.5 574.9,275.5 590.2,260.5 597.9,245.5 601.7,230.5 601.7,215.5 605.5,200.5 605.5,185.5 605.5,170.5 605.5,155.5 605.5,140.5 605.5,125.5 605.5,110.5 605.5,95.5 605.5,80.5" stroke="#ff8000" stroke-width="0.99" fill="none"/>
<polyline points="150.9,365.5 364.8,350.5 441.2,335.5 490.9,320.5 513.8,305.5 536.7,290.5 563.5,275.5 571.1,260.5 578.8,245.5 582.6,230.5 590.2,215.5 594.0,200.5 597.9,185.5 601.7,170.5 601.7,155.5 605.5,140.5 605.5,125.5 605.5,110.5 605.5,95.5 605.5,80.5" stroke="#ff8000" stroke-width="0.99" fill="none"/>
<polyline points="238.8,365.5 383.9,350.5 445.1,335.5 494.7,320.5 525.3,305.5 548.2,290.5 563.5,275.5 574.9,260.5 582.6,245.5 590.2,230.5 594.0,215.5 597.9,200.5 601.7,185.5 601.7,170.5 601.7,155.5 605.5,140.5 605.5,125.5 605.5,110.5 605.5,95.5 605.5,80.5" stroke="#ff8000" stroke-width="0.99" fill="none"/>
<polyline points="113.0,365.5 113.0,350.5 113.0,335.5 113.0,320.5 115.5,305.5 119.5,290.5 124.5,275.5 132.0,260.5 139.5,245.5 142.0,230.5 153.5,215.5 163.0,200.5 169.5,185.5 177.0,170.5 177.0,155.5 188.5,140.5 200.0,125.5 207.5,110.5 215.0,95.5 223.0,80.5" stroke="#0000ff" stroke-width="2" fill="none"/>
</g>
<g stroke="#000" stroke-width="1" fill="none">
<rect x="65.5" y="65.5" width="550" height="310"/>
<line x1="128.5" y1="376" x2="128.5" y2="370"/>
<line x1="128.5" y1="65" x2="128.5" y2="71"/>
<line x1="181.5" y1="376" x2="181.5" y2="365"/>
<line x1="181.5" y1="65" x2="181.5" y2="76"/>
<line x1="234.5" y1="376" x2="234.5" y2="370"/>
<line x1="234.5" y1="65" x2="234.5" y2="71"/>
<line x1="287.5" y1="376" x2="287.5" y2="365"/>
<line x1="287.5" y1="65" x2="287.5" y2="76"/>
<line x1="340.5" y1="376" x2="340.5" y2="370"/>
<line x1="340.5" y1="65" x2="340.5" y2="71"/>
<line x1="393.5" y1="376" x2="393.5" y2="365"/>
<line x1="393.5" y1="65" x2="393.5" y2="76"/>
<line x1="446.5" y1="376" x2="446.5" y2="370"/>
<line x1="446.5" y1="65" x2="446.5" y2="71"/>
<line x1="499.5" y1="376" x2="499.5" y2="365"/>
<line x1="499.5" y1="65" x2="499.5" y2="76"/>
<line x1="552.5" y1="376" x2="552.5" y2="370"/>
<line x1="552.5" y1="65" x2="552.5" y2="71"/>
<line x1="605.5" y1="376" x2="605.5" y2="365"/>
<line x1="605.5" y1="65" x2="605.5" y2="76"/>
<line x1="65" y1="336.5" x2="71" y2="336.5"/>
<line x1="616" y1="336.5" x2="610" y2="336.5"/>
<line x1="65" y1="307.5" x2="71" y2="307.5"/>
<line x1="616" y1="307.5" x2="610" y2="307.5"/>
<line x1="65" y1="278.5" x2="71" y2="278.5"/>
<line x1="616" y1="278.5" x2="610" y2="278.5"/>
<line x1="65" y1="249.5" x2="71" y2="249.5"/>
<line x1="616" y1="249.5" x2="610" y2="249.5"/>
<line x1="65" y1="220.5" x2="76" y2="220.5"/>
<line x1="616" y1="220.5" x2="605" y2="220.5"/>
<line x1="65" y1="191.5" x2="71" y2="191.5"/>
<line x1="616" y1="191.5" x2="610" y2="191.5"/>
<line x1="65" y1="162.5" x2="71" y2="162.5"/>
<line x1="616" y1="162.5" x2="610" y2="162.5"/>
<line x1="65" y1="133.5" x2="71" y2="133.5"/>
<line x1="616" y1="133.5" x2="610" y2="133.5"/>
<line x1="65" y1="104.5" x2="71" y2="104.5"/>
<line x1="616" y1="104.5" x2="610" y2="104.5"/>
<line x1="65" y1="75.5" x2="76" y2="75.5"/>
<line x1="616" y1="75.5" x2="605" y2="75.5"/>
</g>
</svg>
<div class="t m c" style="left:348.5px;top:26.7px">T1<span class="z">0</span>91-D1</div>
<div class="t m c" style="left:334px;top:416px">Percent of Residues (CA)</div>
<div class="t m r" style="left:27px;top:232.5px">Distance Cutoff, A</div>
<div class="t n c" style="left:65px;top:391px">0</div>
<div class="t n c" style="left:181px;top:391px">20</div>
<div class="t n c" style="left:287px;top:391px">40</div>
<div class="t n c" style="left:393px;top:391px">60</div>
<div class="t n c" style="left:499px;top:391px">80</div>
<div class="t n c" style="left:609px;top:391px">100</div>
<div class="t m r" style="left:50px;top:375px"><span class="z">0</span></div>
<div class="t m r" style="left:50px;top:220px">5</div>
<div class="t m r" style="left:50px;top:65.5px">1<span class="z">0</span></div>
</body>
</html>
